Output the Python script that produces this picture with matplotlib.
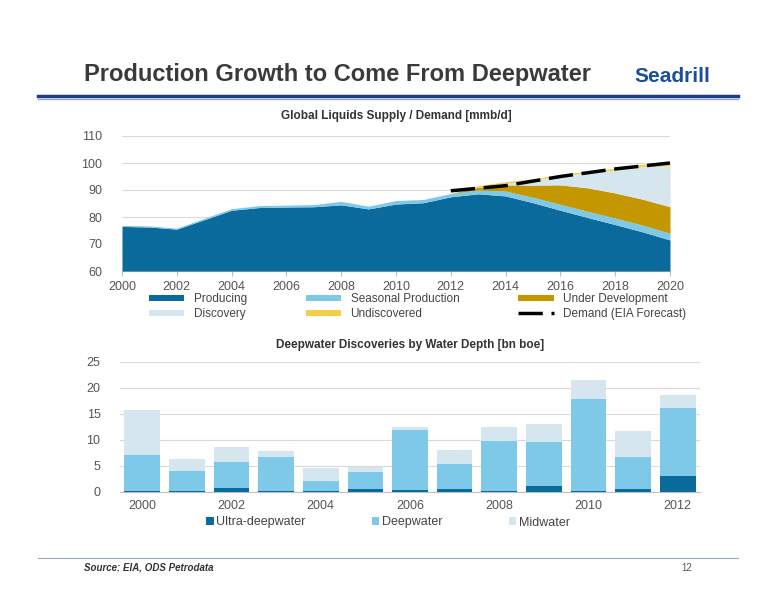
import matplotlib.pyplot as plt
import numpy as np

plt.rcParams['font.family'] = ['Liberation Sans', 'DejaVu Sans']

years = np.arange(2000, 2021)
producing = [76.5, 76.3, 75.5, 79.0, 82.5, 83.5, 83.7, 83.8, 84.5, 83.0, 84.8, 85.3,
             87.5, 88.6, 87.8, 85.3, 82.5, 79.8, 77.2, 74.5, 71.5]
seasonal = [0.4, 0.4, 0.4, 0.5, 0.6, 0.7, 0.7, 0.8, 1.3, 1.0, 1.3, 1.2,
            1.2, 1.4, 1.8, 2.0, 2.2, 2.3, 2.4, 2.5, 2.5]
under_dev = [0]*12 + [0.0, 1.0, 2.3, 4.5, 7.2, 8.7, 9.3, 9.6, 9.8]
discovery = [0]*12 + [0.0, 0.0, 0.6, 1.8, 3.4, 5.6, 8.5, 12.0, 15.2]
undiscovered = [0]*12 + [0.0, 0.6, 0.6, 0.5, 0.5, 0.6, 0.7, 0.9, 1.2]
demand_years = [2012, 2014, 2016, 2018, 2020]
demand = [89.7, 91.6, 95.0, 97.8, 100.0]

disc_years = np.arange(2000, 2013)
ultra = [0.1, 0.2, 0.8, 0.2, 0.2, 0.5, 0.4, 0.5, 0.2, 1.1, 0.2, 0.6, 3.0]
deep = [7.0, 3.8, 5.0, 6.6, 2.0, 3.3, 11.6, 4.8, 9.6, 8.5, 17.6, 6.1, 13.1]
mid = [8.6, 2.3, 2.8, 1.0, 2.4, 1.0, 0.5, 2.7, 2.7, 3.4, 3.8, 5.1, 2.6]

c_prod = '#0b6a9c'
c_seas = '#7ec8e8'
c_dev = '#c49600'
c_disc = '#d6e6ee'
c_undisc = '#f5cf45'
grid_c = '#d9d9d9'
tick_c = '#555555'

fig = plt.figure(figsize=(7.76, 6.0), dpi=100)
W, H = 776, 600

def px(l, t, r, b):
    return [l / W, 1 - b / H, (r - l) / W, (b - t) / H]

# header
fig.text(84 / W, 1 - 75 / H, 'Production Growth to Come From Deepwater', fontsize=17,
         fontweight='bold', color='#3a3a3a', va='center')
fig.text(634 / W, 1 - 77 / H, 'Seadrill', fontsize=15, fontweight='bold', color='#1b4f9c', va='center')
fig.add_artist(plt.Line2D([38 / W, 738 / W], [1 - 96 / H, 1 - 96 / H], color='#1f3c88', lw=2.5))
fig.add_artist(plt.Line2D([38 / W, 738 / W], [1 - 99 / H, 1 - 99 / H], color='#9aa8c8', lw=1))

# top chart
ax = fig.add_axes(px(122, 136, 670, 271))
b0 = np.array(producing)
b1 = b0 + np.array(seasonal)
b2 = b1 + np.array(under_dev)
b3 = b2 + np.array(discovery)
b4 = b3 + np.array(undiscovered)
ax.fill_between(years, 60, b0, color=c_prod, lw=0, label='Producing', zorder=3)
ax.fill_between(years, b0, b1, color=c_seas, lw=0, label='Seasonal Production', zorder=3)
ax.fill_between(years, b1, b2, color=c_dev, lw=0, label='Under Development', zorder=3)
ax.fill_between(years, b2, b3, color=c_disc, lw=0, label='Discovery', zorder=3)
ax.fill_between(years, b3, b4, color=c_undisc, lw=0, label='Undiscovered', zorder=3)
ax.plot(demand_years, demand, color='black', lw=2.5, dashes=(7, 2.5), label='Demand (EIA Forecast)', zorder=4)
ax.set_xlim(2000, 2020)
ax.set_ylim(60, 110)
ax.set_xticks(range(2000, 2021, 2))
ax.set_yticks(range(60, 111, 10))
ax.yaxis.grid(True, color=grid_c, lw=0.8)
ax.set_axisbelow(True)
for s in ['top', 'right', 'left']:
    ax.spines[s].set_visible(False)
ax.spines['bottom'].set_color('#bfbfbf')
ax.tick_params(axis='y', length=0, colors=tick_c, labelsize=9, pad=14)
ax.tick_params(axis='x', colors=tick_c, labelsize=9, color='#bfbfbf')
ax.set_title('Global Liquids Supply / Demand [mmb/d]', fontsize=8.5, fontweight='bold', color='#333333', pad=12)
h, l = ax.get_legend_handles_labels()
order = [0, 3, 1, 4, 2, 5]
ax.legend([h[i] for i in order], [l[i] for i in order], ncol=3, loc='upper left',
          bbox_to_anchor=(0.04, -0.13), frameon=False, fontsize=8.5, handlelength=3.0,
          handleheight=0.5, labelcolor='#444444', columnspacing=5.0, borderaxespad=0,
          labelspacing=0.25)

# bottom chart
ax2 = fig.add_axes(px(120, 362, 700, 492))
wd = 0.8
ax2.bar(disc_years, ultra, wd, color=c_prod, label='Ultra-deepwater', zorder=3)
ax2.bar(disc_years, deep, wd, bottom=ultra, color=c_seas, label='Deepwater', zorder=3)
ax2.bar(disc_years, mid, wd, bottom=np.array(ultra) + np.array(deep), color=c_disc, label='Midwater', zorder=3)
ax2.set_xlim(1999.5, 2012.5)
ax2.set_ylim(0, 25)
ax2.set_xticks(range(2000, 2013, 2))
ax2.set_yticks(range(0, 26, 5))
ax2.yaxis.grid(True, color=grid_c, lw=0.8)
ax2.set_axisbelow(True)
for s in ['top', 'right', 'left']:
    ax2.spines[s].set_visible(False)
ax2.spines['bottom'].set_color('#bfbfbf')
ax2.tick_params(axis='y', length=0, colors=tick_c, labelsize=9, pad=14)
ax2.tick_params(axis='x', length=0, colors=tick_c, labelsize=9, pad=6)
ax2.set_title('Deepwater Discoveries by Water Depth [bn boe]', fontsize=8.5, fontweight='bold', color='#333333', pad=10)
ax2.legend(ncol=3, loc='upper left', bbox_to_anchor=(0.14, -0.15), frameon=False, fontsize=9,
           handlelength=0.6, handleheight=0.6, handletextpad=0.2, labelcolor='#444444',
           columnspacing=5.3, borderaxespad=0)

# footer
fig.add_artist(plt.Line2D([38 / W, 738 / W], [1 - 558 / H, 1 - 558 / H], color='#9aa8c8', lw=0.8))
fig.text(84 / W, 1 - 568 / H, 'Source: EIA, ODS Petrodata', fontsize=7, fontweight='bold',
         fontstyle='italic', color='#333333', va='center')
fig.text(692 / W, 1 - 568 / H, '12', fontsize=7, color='#555555', va='center', ha='right')

fig.savefig('out.png', dpi=100)
